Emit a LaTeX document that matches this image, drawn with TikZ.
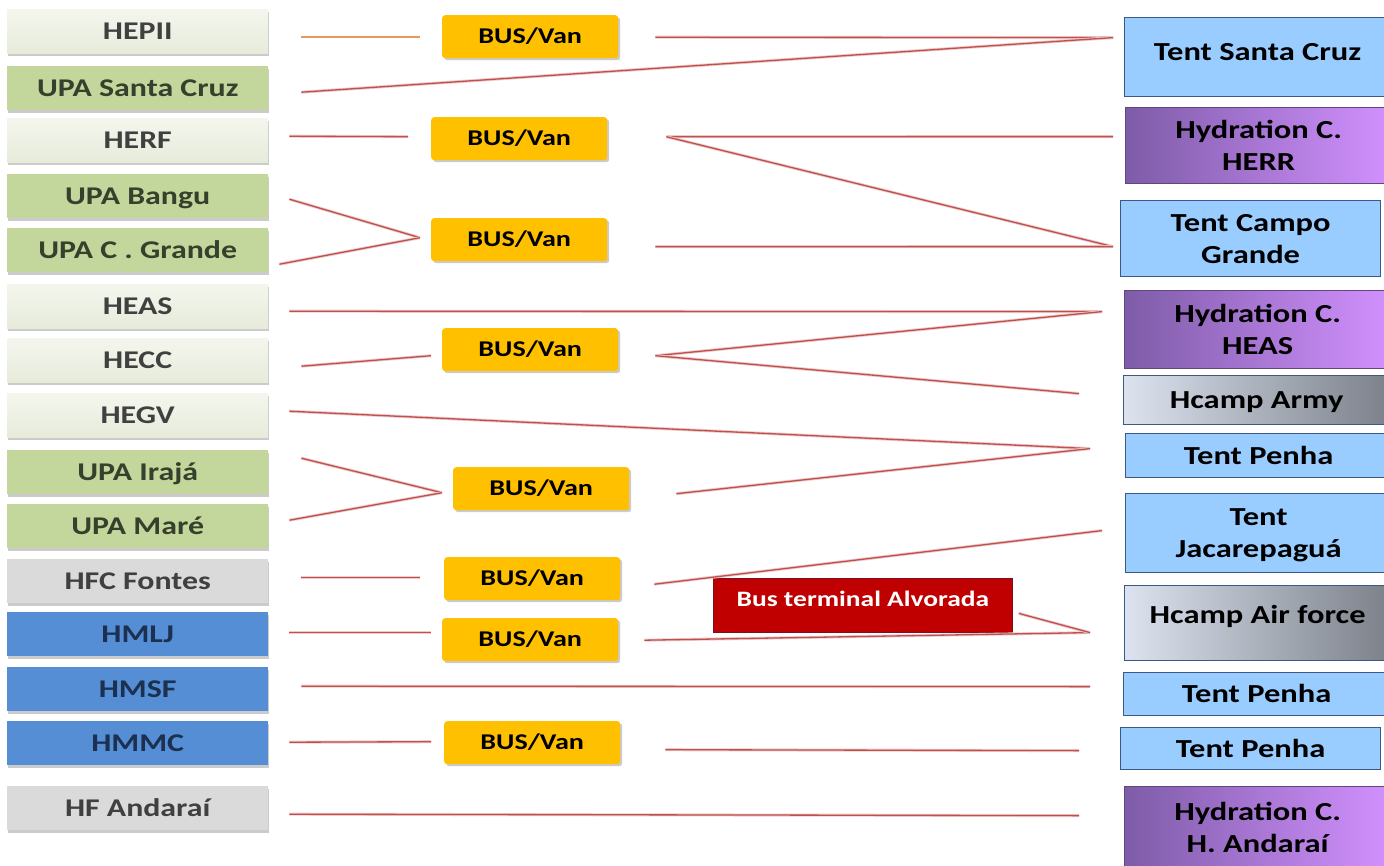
\documentclass[tikz,border=0pt]{standalone}
\usepackage{fontspec}
\setmainfont{Carlito}[FakeStretch=1.25]
\usetikzlibrary{shadows}
\definecolor{lighttop}{HTML}{F4F6EE}
\definecolor{lightbot}{HTML}{E6EBDA}
\definecolor{greenfill}{HTML}{C3D69B}
\definecolor{grayfill}{HTML}{DADADA}
\definecolor{bluefill}{HTML}{558ED5}
\definecolor{lefttext}{HTML}{404040}
\definecolor{greentext}{HTML}{37402C}
\definecolor{bluetext}{HTML}{1C3050}
\definecolor{busorange}{HTML}{FFC000}
\definecolor{tentblue}{HTML}{99CCFF}
\definecolor{rborder}{HTML}{3A5A85}
\definecolor{hydl}{HTML}{7E5CA8}
\definecolor{hydr}{HTML}{D291FF}
\definecolor{hydborder}{HTML}{5F497A}
\definecolor{caml}{HTML}{DCE3EF}
\definecolor{camr}{HTML}{7B8089}
\definecolor{termred}{HTML}{C00000}
\definecolor{termborder}{HTML}{7A1020}
\definecolor{linkred}{HTML}{C0504D}
\definecolor{linktan}{HTML}{E39A5C}
\begin{document}
\begin{tikzpicture}[x=1pt,y=-1pt,
  lbox/.style={anchor=north west, minimum width=261, minimum height=44, inner sep=0,
    text height=16, text depth=0, font=\bfseries\fontsize{25.5}{28}\selectfont,
    drop shadow={shadow xshift=0.5pt, shadow yshift=-3pt, fill=black!45, opacity=0.45}},
  lightbox/.style={lbox, top color=lighttop, bottom color=lightbot, text=lefttext},
  greenbox/.style={lbox, fill=greenfill, text=greentext},
  graybox/.style={lbox, fill=grayfill, text=lefttext},
  bluebox/.style={lbox, fill=bluefill, text=bluetext},
  busbox/.style={anchor=north west, minimum width=176, minimum height=43, inner sep=0,
    rounded corners=3pt, fill=busorange, text height=14, text depth=0,
    font=\bfseries\fontsize{22.5}{26}\selectfont,
    drop shadow={shadow xshift=2pt, shadow yshift=-2pt, fill=black!40, opacity=0.5}},
  rbox/.style={anchor=north west, minimum width=266, inner sep=0, draw=rborder,
    line width=1.2pt, font=\bfseries\fontsize{26}{32}\selectfont, align=center,
    text height=17, text depth=0},
  twoline/.style={text height=49, text depth=0},
  tentbox/.style={rbox, fill=tentblue},
  hydbox/.style={rbox, left color=hydl, right color=hydr, draw=hydborder, twoline},
  campbox/.style={rbox, left color=caml, right color=camr},
  termbox/.style={anchor=north west, minimum width=299, inner sep=0, fill=termred,
    draw=termborder, line width=0.8pt, text=white, font=\bfseries\fontsize{22}{26}\selectfont,
    text height=28, text depth=26},
  link/.style={draw=linkred, line width=1.3pt, preaction={draw=linkred!30, line width=3pt}},
  tanlink/.style={draw=linktan, line width=1.6pt}
]
\useasboundingbox (0,0) rectangle (1384,865);
\clip (0,0) rectangle (1384,865);
\fill[white] (0,0) rectangle (1384,865);

% left column
\node[lightbox] (hepii) at (7,9)   {HEPII};
\node[greenbox] (upasc) at (7,66)  {UPA Santa Cruz};
\node[lightbox] (herf)  at (7,118) {HERF};
\node[greenbox] (bangu) at (7,174) {UPA Bangu};
\node[greenbox] (upacg) at (7,228) {UPA C . Grande};
\node[lightbox] (heas)  at (7,284) {HEAS};
\node[lightbox] (hecc)  at (7,338) {HECC};
\node[lightbox] (hegv)  at (7,393) {HEGV};
\node[greenbox] (iraja) at (7,450) {UPA Irajá};
\node[greenbox] (mare)  at (7,504) {UPA Maré};
\node[graybox]  (hfc)   at (7,559) {HFC Fontes};
\node[bluebox]  (hmlj)  at (7,612) {HMLJ};
\node[bluebox]  (hmsf)  at (7,667) {HMSF};
\node[bluebox]  (hmmc)  at (7,721) {HMMC};
\node[graybox]  (hfa)   at (7,786) {HF Andaraí};

% bus/van column
\node[busbox] (b1) at (442,15)  {BUS/Van};
\node[busbox] (b2) at (431,117) {BUS/Van};
\node[busbox] (b3) at (431,218) {BUS/Van};
\node[busbox] (b4) at (442,328) {BUS/Van};
\node[busbox] (b5) at (453,467) {BUS/Van};
\node[busbox] (b6) at (444,557) {BUS/Van};
\node[busbox] (b7) at (442,618) {BUS/Van};
\node[busbox] (b8) at (444,721) {BUS/Van};

\node[termbox] (term) at (713,578) {Bus terminal Alvorada};

% right column
\node[tentbox, text height=43, text depth=36] (tsc) at (1124,17) {Tent Santa Cruz};
\node[hydbox, minimum height=76] (hyd1) at (1125,107) {Hydration C.\\HERR};
\node[tentbox, twoline, minimum width=260, minimum height=76] (tcg) at (1120,200) {Tent Campo\\Grande};
\node[hydbox, minimum height=78] (hyd2) at (1124,290) {Hydration C.\\HEAS};
\node[campbox, minimum height=49] (army) at (1123,375) {Hcamp Army};
\node[tentbox, minimum height=44] (pen1) at (1125,433) {Tent Penha};
\node[tentbox, twoline, minimum height=79] (jac) at (1125,493) {Tent\\Jacarepaguá};
\node[campbox, text height=38, text depth=37] (air) at (1124,585) {Hcamp Air force};
\node[tentbox, minimum height=43] (pen2) at (1123,672) {Tent Penha};
\node[tentbox, minimum width=260, minimum height=42] (pen3) at (1120,727) {Tent Penha};
\node[hydbox, minimum height=82] (hyd3) at (1124,786) {Hydration C.\\H. Andaraí};

% connectors
\draw[tanlink] ([shift={(33,6)}]hepii.east) -- ([shift={(-22,0.5)}]b1.west);
\draw[link] ([shift={(37,0.5)}]b1.east) -- ([shift={(-11,-19.5)}]tsc.west);
\draw[link] ([shift={(33,4)}]upasc.east) -- ([shift={(-11,-19.5)}]tsc.west);

\draw[link] ([shift={(21,-4)}]herf.east) -- ([shift={(-23,-2)}]b2.west);
\draw[link] ([shift={(59,-2)}]b2.east) -- ([shift={(-12,-9)}]hyd1.west);
\draw[link] ([shift={(59,-2)}]b2.east) -- ([shift={(-7,8)}]tcg.west);

\draw[link] ([shift={(21,3)}]bangu.east) -- ([shift={(-11,-2)}]b3.west);
\draw[link] ([shift={(11,14)}]upacg.east) -- ([shift={(-11,-2)}]b3.west);
\draw[link] ([shift={(48,7)}]b3.east) -- ([shift={(-7,8)}]tcg.west);

\draw[link] ([shift={(21,5)}]heas.east) -- ([shift={(-22,-18)}]hyd2.west);
\draw[link] ([shift={(33,6)}]hecc.east) -- ([shift={(-11,6)}]b4.west);
\draw[link] ([shift={(37,6)}]b4.east) -- ([shift={(-22,-18)}]hyd2.west);
\draw[link] ([shift={(37,6)}]b4.east) -- ([shift={(-44,-6.5)}]army.west);

\draw[link] ([shift={(21,-4)}]hegv.east) -- ([shift={(-35,-7)}]pen1.west);
\draw[link] ([shift={(33,-14)}]iraja.east) -- ([shift={(-11,4)}]b5.west);
\draw[link] ([shift={(21,-6)}]mare.east) -- ([shift={(-11,4)}]b5.west);
\draw[link] ([shift={(47,5)}]b5.east) -- ([shift={(-35,-7)}]pen1.west);

\draw[link] ([shift={(33,-4)}]hfc.east) -- ([shift={(-24,-1.5)}]b6.west);
\draw[link] ([shift={(34,5.5)}]b6.east) -- ([shift={(-23,-2.5)}]jac.west);

\draw[link] ([shift={(21,-2)}]hmlj.east) -- ([shift={(-11,-7.5)}]b7.west);
\draw[link] ([shift={(26,0.5)}]b7.east) -- ([shift={(-34,9.5)}]air.west);
\draw[link] ([shift={(6,8)}]term.east) -- ([shift={(-34,9.5)}]air.west);

\draw[link] ([shift={(33,-3)}]hmsf.east) -- ([shift={(-33,-7.5)}]pen2.west);
\draw[link] ([shift={(21,-1)}]hmmc.east) -- ([shift={(-13,-1)}]b8.west);
\draw[link] ([shift={(45,7)}]b8.east) -- ([shift={(-41,2)}]pen3.west);
\draw[link] ([shift={(21,6)}]hfa.east) -- ([shift={(-45,-12)}]hyd3.west);
\end{tikzpicture}
\end{document}
